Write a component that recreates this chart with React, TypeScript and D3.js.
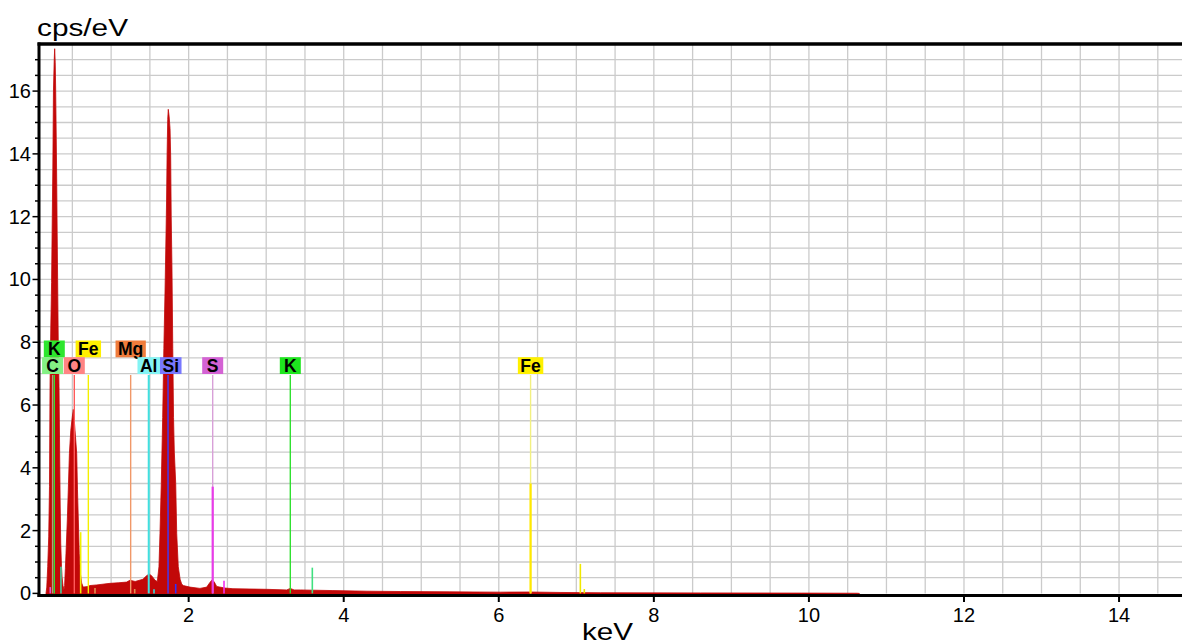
import React, { useEffect, useRef } from "react";
import * as d3 from "d3";

// Spectrum outline (keV, cps/eV)
const specEnergy = [
  0.16, 0.17, 0.182, 0.195, 0.205, 0.212, 0.222, 0.232, 0.241, 0.248, 0.256, 0.266, 0.272, 0.279, 0.285,
  0.292, 0.298, 0.304, 0.31, 0.318, 0.328, 0.336, 0.342, 0.35, 0.36, 0.368, 0.379, 0.392, 0.4, 0.41,
  0.418, 0.435, 0.45, 0.462, 0.48, 0.498, 0.512, 0.525, 0.54, 0.556, 0.566, 0.577, 0.589, 0.605, 0.62,
  0.64, 0.7, 0.727, 0.814, 0.985, 1.1, 1.2, 1.243, 1.31, 1.41, 1.45, 1.49, 1.527, 1.566, 1.596,
  1.617, 1.63, 1.647, 1.665, 1.68, 1.695, 1.705, 1.715, 1.722, 1.73, 1.737, 1.748, 1.76, 1.768, 1.775,
  1.785, 1.795, 1.805, 1.815, 1.833, 1.846, 1.866, 1.89, 1.91, 1.931, 2.017, 2.146, 2.233, 2.26, 2.297,
  2.327, 2.362, 2.47, 2.571, 2.79, 3.006, 3.265, 3.31, 3.36, 3.44, 3.86, 4.3, 4.73, 5.37, 6.02,
  6.4, 6.79, 7.31, 8.6, 9.9, 10.62, 10.65,
];
const specCps = [
  0, 0.2, 0.85, 1.8, 3.4, 6.6, 8.5, 9.9, 12.0, 13.5, 16.0, 17.0, 17.35, 16.9, 16.0,
  14.5, 13.2, 11.5, 10.0, 8.0, 6.6, 4.5, 3.0, 1.6, 0.85, 0.5, 0.25, 0.12, 0.25, 0.8,
  1.28, 2.34, 3.5, 4.46, 5.2, 5.6, 5.86, 5.5, 5.0, 4.46, 3.3, 2.34, 1.28, 0.6, 0.33,
  0.2, 0.22, 0.25, 0.27, 0.32, 0.34, 0.36, 0.42, 0.38, 0.45, 0.55, 0.62, 0.55, 0.42, 0.38,
  0.85, 1.9, 3.5, 5.6, 7.8, 9.6, 11.0, 12.5, 14.0, 15.1, 15.42, 15.2, 14.8, 13.9, 12.0,
  10.3, 7.8, 5.6, 4.5, 3.5, 1.9, 0.85, 0.45, 0.3, 0.25, 0.2, 0.16, 0.2, 0.3, 0.42,
  0.38, 0.22, 0.17, 0.15, 0.14, 0.13, 0.11, 0.16, 0.11, 0.11, 0.09, 0.07, 0.06, 0.05, 0.04,
  0.045, 0.03, 0.02, 0.015, 0.01, 0.005, 0,
];

// Labelled element markers
const markerNames = ["K", "C", "O", "Fe", "Mg", "Al", "Si", "S", "K", "Fe"];
const markerEnergy = [0.267, 0.245, 0.525, 0.706, 1.252, 1.485, 1.734, 2.31, 3.311, 6.41];
const markerRow = [1, 2, 2, 1, 1, 2, 2, 2, 2, 2];
const markerBoxColor = ["#2ee62e", "#84f084", "#ff8484", "#fff000", "#f07c3c", "#84f4f4", "#7878ff", "#d462d4", "#1ee61e", "#fff000"];
const markerLineColor = ["#30e030", "#b0a080", "#ff5a5a", "#f4f000", "#f09868", "#40e0e0", "#3c3cff", "#d8a0d8", "#30e030", "#f2f080"];
const markerStrongColor = [null, null, null, null, null, null, null, "#e83ce8", null, "#ffe800"];
const markerStrongHeight = [null, null, null, null, null, null, null, 3.4, null, 3.5];

// Small secondary lines
const minorEnergy = [0.215, 0.353, 0.607, 0.792, 1.304, 1.553, 1.833, 2.456, 3.595, 7.052, 7.103];
const minorHeight = [0.2, 0.85, 1.95, 0.17, 0.14, 0.13, 0.3, 0.4, 0.82, 0.94, 0.14];
const minorColor = ["#e050e0", "#40d0a0", "#f0f000", "#e09050", "#e09050", "#30e0e0", "#3030ff", "#f030f0", "#40e080", "#f0e800", "#f0e800"];

const yTickLabels = [0, 2, 4, 6, 8, 10, 12, 14, 16];
const xTickLabels = [2, 4, 6, 8, 10, 12, 14];

const FONT = "'Liberation Sans', Arial, sans-serif";

export default function App() {
  const ref = useRef<SVGSVGElement>(null);

  useEffect(() => {
    const W = 1182, H = 644;
    const left = 39, right = 1182, top = 44;
    const svg = d3.select(ref.current);
    svg.selectAll("*").remove();

    const x = d3.scaleLinear().domain([0.0697, 14.812]).range([left, right]);
    const y = d3.scaleLinear().domain([0, 17.5]).range([593.4, top]);

    svg.append("rect").attr("width", W).attr("height", H).attr("fill", "#fff");

    // grid
    const g = svg.append("g");
    d3.range(0.5, 17.5, 0.5).forEach((v) => {
      g.append("line").attr("x1", left).attr("x2", right).attr("y1", y(v)).attr("y2", y(v))
        .attr("stroke", "#cbcbcb").attr("stroke-width", 1.3);
    });
    d3.range(0.5, 15, 0.5).filter((v) => x(v) > left + 2).forEach((v) => {
      g.append("line").attr("x1", x(v)).attr("x2", x(v)).attr("y1", top).attr("y2", y(0))
        .attr("stroke", "#cbcbcb").attr("stroke-width", 1.3);
    });

    // spectrum
    const pts = specEnergy.map((e, i) => [e, specCps[i]] as [number, number]);
    const area = d3.area<[number, number]>()
      .x((d) => x(d[0]))
      .y0(595)
      .y1((d) => y(d[1]))
      .curve(d3.curveLinear);
    svg.append("path").datum(pts).attr("d", area).attr("fill", "#c20808")
      .attr("stroke", "#c20808").attr("stroke-width", 0.8);

    // minor element lines
    minorEnergy.forEach((e, i) => {
      svg.append("line").attr("x1", x(e)).attr("x2", x(e)).attr("y1", y(minorHeight[i])).attr("y2", y(0))
        .attr("stroke", minorColor[i]).attr("stroke-width", 1.6);
    });

    // marker lines
    const lineTop = 375;
    markerEnergy.forEach((e, i) => {
      const xx = x(e);
      svg.append("line").attr("x1", xx).attr("x2", xx).attr("y1", lineTop).attr("y2", y(0))
        .attr("stroke", markerLineColor[i]).attr("stroke-width", markerNames[i] === "Al" ? 2 : 1.4);
      const sh = markerStrongHeight[i];
      if (sh != null) {
        svg.append("line").attr("x1", xx).attr("x2", xx).attr("y1", y(sh)).attr("y2", y(0))
          .attr("stroke", markerStrongColor[i] as string).attr("stroke-width", 2.2);
      }
    });

    // labels with boxes, avoid overlap within a row
    const rowTop: Record<number, number> = { 1: 340.5, 2: 357.2 };
    const rowH = 16.8;
    [1, 2].forEach((row) => {
      const idx = markerNames.map((_, i) => i).filter((i) => markerRow[i] === row)
        .sort((a, b) => markerEnergy[a] - markerEnergy[b]);
      let prevRight = -Infinity;
      idx.forEach((i) => {
        const lg = svg.append("g");
        const rect = lg.append("rect");
        const t = lg.append("text").text(markerNames[i]).attr("font-family", FONT)
          .attr("font-weight", "bold").attr("font-size", 17.5).attr("fill", "#000")
          .attr("text-anchor", "middle");
        const tw = (t.node() as SVGTextElement).getComputedTextLength();
        const bw = Math.max(tw + 5, 21);
        let bx = x(markerEnergy[i]) - bw / 2;
        if (bx < prevRight) bx = prevRight;
        prevRight = bx + bw;
        rect.attr("x", bx).attr("y", rowTop[row]).attr("width", bw).attr("height", rowH)
          .attr("fill", markerBoxColor[i]);
        t.attr("x", bx + bw / 2).attr("y", rowTop[row] + rowH - 2.3);
      });
    });

    // frame / axes
    svg.append("line").attr("x1", left - 1.5).attr("x2", right).attr("y1", 44).attr("y2", 44)
      .attr("stroke", "#000").attr("stroke-width", 3.5);
    svg.append("line").attr("x1", left).attr("x2", left).attr("y1", 42.5).attr("y2", 597)
      .attr("stroke", "#000").attr("stroke-width", 3);
    svg.append("line").attr("x1", left - 1.5).attr("x2", right).attr("y1", 595.5).attr("y2", 595.5)
      .attr("stroke", "#000").attr("stroke-width", 3);

    // y ticks
    d3.range(0, 17.5, 0.5).forEach((v) => {
      const major = v % 2 === 0;
      svg.append("line").attr("x1", major ? 32.5 : 35).attr("x2", left).attr("y1", y(v)).attr("y2", y(v))
        .attr("stroke", "#000").attr("stroke-width", 1.5);
    });
    yTickLabels.forEach((v) => {
      svg.append("text").attr("x", 31).attr("y", y(v) + 7).attr("text-anchor", "end")
        .attr("font-family", FONT).attr("font-size", 20).attr("fill", "#000").text(String(v));
    });

    // x ticks
    xTickLabels.forEach((v) => {
      svg.append("line").attr("x1", x(v)).attr("x2", x(v)).attr("y1", 596).attr("y2", 602)
        .attr("stroke", "#000").attr("stroke-width", 2);
      svg.append("text").attr("x", x(v)).attr("y", 622).attr("text-anchor", "middle")
        .attr("font-family", FONT).attr("font-size", 20).attr("fill", "#000").text(String(v));
    });

    // titles
    svg.append("text").attr("x", 37).attr("y", 36).attr("font-family", FONT).attr("font-size", 23)
      .attr("textLength", 91).attr("lengthAdjust", "spacingAndGlyphs").attr("fill", "#000").text("cps/eV");
    svg.append("text").attr("x", 582).attr("y", 640).attr("font-family", FONT).attr("font-size", 24)
      .attr("textLength", 51).attr("lengthAdjust", "spacingAndGlyphs").attr("fill", "#000").text("keV");
  }, []);

  return (
    <div style={{ position: "absolute", left: 0, top: 0 }}>
      <svg ref={ref} width={1182} height={644} style={{ display: "block" }} />
    </div>
  );
}
